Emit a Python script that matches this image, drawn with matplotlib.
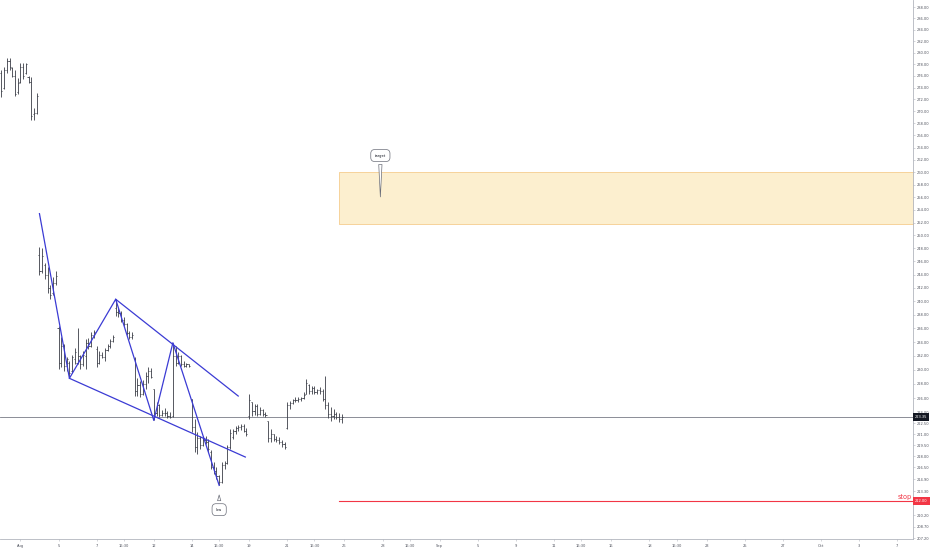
import numpy as np
import pandas as pd
import matplotlib
matplotlib.use('Agg')
import matplotlib.pyplot as plt
from matplotlib.collections import LineCollection
from matplotlib.ticker import FixedLocator, FixedFormatter, NullLocator, NullFormatter

# hourly OHLC bars, 7 per session
bar_days = ['2019-07-31', '2019-08-01', '2019-08-02', '2019-08-05', '2019-08-06',
            '2019-08-07', '2019-08-08', '2019-08-09', '2019-08-12', '2019-08-13',
            '2019-08-14', '2019-08-15', '2019-08-16', '2019-08-19', '2019-08-20',
            '2019-08-21', '2019-08-22', '2019-08-23']

opens = [276.5, 274.0, 277.0, 278.5, 277.3, 276.0, 273.2,
         275.0, 277.5, 276.5, 275.8, 275.0, 269.5, 269.8,
         247.0, 244.6, 245.5, 244.0, 242.0, 241.2, 242.8,
         236.0, 231.0, 233.5, 230.5, 231.0, 229.8, 231.5,
         231.0, 232.0, 230.8, 232.0, 233.8, 233.5, 235.0,
         233.0, 231.0, 232.2, 231.9, 232.9, 233.4, 234.2,
         239.0, 238.4, 238.2, 237.2, 236.6, 235.3, 234.7,
         231.5, 227.0, 227.8, 226.6, 228.0, 229.2, 229.8,
         227.3, 224.0, 225.0, 223.7, 224.0, 223.9, 223.5,
         223.5, 232.0, 231.0, 232.0, 230.8, 230.6, 230.8,
         225.9, 222.0, 219.2, 220.5, 219.5, 220.2, 220.0,
         218.6, 216.6, 216.0, 215.4, 214.5, 216.8, 217.1,
         219.2, 220.6, 221.4, 221.9, 222.0, 222.2, 221.5,
         223.5, 225.4, 224.2, 224.9, 223.8, 224.4, 223.8,
         222.8, 220.5, 221.0, 220.4, 220.2, 219.9, 219.6,
         221.8, 225.0, 225.3, 225.7, 225.8, 225.9, 226.0,
         226.6, 227.8, 227.0, 227.4, 226.9, 227.1, 227.0,
         225.9, 225.0, 223.8, 223.5, 223.8, 223.4, 223.1]
highs = [277.0, 277.5, 279.0, 279.0, 277.5, 277.0, 275.6,
         278.2, 278.2, 278.3, 276.0, 275.8, 270.5, 273.1,
         248.2, 248.0, 245.8, 245.1, 242.5, 243.6, 244.5,
         236.3, 234.8, 233.7, 231.9, 231.2, 232.2, 233.2,
         236.1, 232.2, 232.7, 234.4, 234.6, 235.4, 235.8,
         233.4, 232.7, 232.5, 233.2, 233.7, 234.4, 235.0,
         240.3, 239.0, 238.5, 237.6, 236.8, 235.6, 235.4,
         231.9, 228.8, 228.4, 228.5, 229.7, 230.4, 230.3,
         227.3, 225.4, 225.2, 224.3, 224.6, 224.2, 224.1,
         233.9, 233.4, 232.5, 232.2, 231.2, 231.0, 230.9,
         225.9, 223.1, 221.3, 220.7, 220.7, 220.7, 220.3,
         218.8, 217.2, 216.6, 215.5, 217.2, 217.4, 219.5,
         221.7, 221.7, 222.2, 222.3, 222.4, 222.4, 221.8,
         226.6, 225.4, 225.2, 225.2, 224.7, 224.5, 224.1,
         222.8, 221.7, 221.0, 220.7, 220.6, 220.2, 219.9,
         225.4, 225.6, 225.9, 226.1, 226.1, 226.2, 226.8,
         228.7, 228.0, 227.7, 227.7, 227.3, 227.6, 227.3,
         229.2, 225.4, 224.7, 224.5, 224.1, 224.0, 223.8]
lows = [272.4, 273.8, 276.5, 277.0, 275.8, 272.6, 273.0,
        274.8, 275.5, 276.3, 274.8, 268.5, 268.6, 269.5,
        244.0, 244.3, 243.3, 241.3, 240.4, 241.0, 242.5,
        230.1, 230.4, 229.8, 229.8, 229.0, 229.6, 230.8,
        230.8, 230.1, 230.5, 230.1, 233.0, 233.3, 234.6,
        230.4, 230.9, 231.7, 231.2, 232.7, 233.2, 234.0,
        237.8, 237.6, 236.9, 236.4, 235.0, 234.5, 234.4,
        226.3, 226.3, 226.1, 226.5, 227.3, 228.2, 228.8,
        222.9, 223.5, 223.4, 223.5, 223.5, 223.2, 223.2,
        223.4, 230.5, 230.8, 230.5, 230.4, 230.4, 230.4,
        221.3, 218.6, 218.3, 219.0, 219.4, 219.6, 218.6,
        216.3, 215.6, 215.0, 214.1, 214.4, 216.3, 216.9,
        219.0, 220.3, 221.0, 221.4, 221.6, 221.3, 220.7,
        223.1, 223.5, 223.7, 223.5, 223.7, 223.5, 223.4,
        219.9, 219.9, 220.1, 219.9, 219.7, 219.3, 219.0,
        221.7, 224.5, 225.2, 225.4, 225.4, 225.6, 225.9,
        226.6, 226.6, 226.6, 226.6, 226.6, 226.6, 225.6,
        224.5, 223.3, 222.8, 223.1, 223.1, 222.7, 222.6]
closes = [273.5, 277.0, 278.5, 277.5, 276.0, 273.0, 274.8,
          277.5, 276.0, 278.0, 275.0, 269.2, 269.8, 272.5,
          244.6, 246.8, 244.0, 242.0, 241.0, 242.8, 243.8,
          231.0, 233.5, 230.5, 231.5, 229.5, 231.8, 232.5,
          232.0, 230.8, 232.2, 233.8, 233.5, 235.0, 235.4,
          231.0, 232.2, 231.9, 232.9, 233.4, 234.2, 234.8,
          238.4, 238.2, 237.2, 236.6, 235.3, 234.7, 235.0,
          227.0, 227.8, 226.6, 228.0, 229.2, 229.8, 229.0,
          224.0, 225.0, 223.7, 224.0, 223.9, 223.5, 223.4,
          232.0, 231.0, 232.0, 230.8, 230.6, 230.8, 230.6,
          222.0, 219.2, 220.5, 219.5, 220.2, 220.0, 219.0,
          216.6, 216.0, 215.4, 214.5, 216.8, 217.1, 219.2,
          221.2, 221.4, 221.9, 222.0, 222.2, 221.5, 221.0,
          225.8, 224.2, 224.9, 223.8, 224.4, 223.8, 223.6,
          220.5, 221.0, 220.4, 220.2, 219.9, 219.6, 219.3,
          225.0, 225.3, 225.7, 225.8, 225.9, 226.0, 226.5,
          228.2, 227.0, 227.4, 226.9, 227.1, 227.0, 225.9,
          225.0, 223.8, 223.5, 223.8, 223.4, 223.1, 223.35]

# right price scale labels
ytick_vals = [288, 286, 284, 282, 280, 278, 276, 274, 272, 270, 268, 266, 264, 262,
              260, 258, 256, 254, 252, 250, 248, 246, 244, 242, 240, 238, 236, 234,
              232, 230, 228, 226, 224, 222.5, 221.0, 219.5, 218.0, 216.5, 214.9,
              213.3, 210.2, 208.7, 207.2]

# time scale labels
tick_dates = ['2019-08-01', '2019-08-05', '2019-08-07', '2019-08-12', '2019-08-14',
              '2019-08-19', '2019-08-21', '2019-08-26', '2019-08-28', '2019-09-03',
              '2019-09-05', '2019-09-09', '2019-09-11', '2019-09-16', '2019-09-18',
              '2019-09-23', '2019-09-25', '2019-09-27', '2019-10-01', '2019-10-03',
              '2019-10-07']
tick_names = ['Aug', '5', '7', '12', '14', '19', '21', '26', '28', 'Sep', '5', '9', '11',
              '16', '18', '23', '25', '27', 'Oct', '3', '7']
intraday_dates = ['2019-08-08', '2019-08-15', '2019-08-22', '2019-08-29',
                  '2019-09-12', '2019-09-19']

# drawings: (date, bar of session, price)
zigzag = [('2019-08-02', 0, 253.4), ('2019-08-05', 4, 228.8), ('2019-08-08', 0, 240.3),
          ('2019-08-12', 0, 222.9), ('2019-08-13', 0, 233.9), ('2019-08-15', 3, 214.1)]
upper_trend = [('2019-08-08', 0, 240.3), ('2019-08-16', 3, 226.3)]
lower_trend = [('2019-08-05', 4, 228.8), ('2019-08-16', 5.6, 217.9)]
target_zone = (251.8, 260.0)
stop_price = 212.0
zone_start = ('2019-08-23', 5, None)
target_tip = ('2019-08-27', 6.2, 255.6)
target_label = 262.7
low_tip = ('2019-08-15', 3, 213.2)
low_label = 210.9

BARS = 7
cal = pd.bdate_range('2019-07-31', '2019-10-10')
cal = cal[cal != pd.Timestamp('2019-09-02')]
day_pos = {d.strftime('%Y-%m-%d'): i for i, d in enumerate(cal)}


def xpos(d, k):
    return day_pos[d] + k / BARS


x = np.array([day_pos[d] + k / BARS for d in bar_days for k in range(BARS)])
o, h, l, c = map(np.array, (opens, highs, lows, closes))

fig = plt.figure(figsize=(9.32, 5.5), dpi=100)
ax = fig.add_axes([0, 11 / 550, 913 / 932, 539 / 550])
ax.set_yscale('log')
ax.set_xlim(-0.07, 47.83)
ax.set_ylim(207.1, 289.3)

w = 0.4 / BARS
segs = []
for xi, oi, hi, li, ci in zip(x, o, h, l, c):
    segs.append([(xi, li), (xi, hi)])
    segs.append([(xi - w, oi), (xi, oi)])
    segs.append([(xi, ci), (xi + w, ci)])
ax.add_collection(LineCollection(segs, colors='#3a3d46', linewidths=0.6, zorder=3))

last = closes[-1]
ax.axhline(last, color='#787b86', lw=0.6, zorder=1)

blue = '#3b3bd4'
zx = [xpos(d, k) for d, k, p in zigzag]
zy = [p for d, k, p in zigzag]
ax.plot(zx, zy, color=blue, lw=0.9, zorder=4)
for line in (upper_trend, lower_trend):
    ax.plot([xpos(d, k) for d, k, p in line], [p for d, k, p in line], color=blue, lw=0.9, zorder=4)

x0 = xpos(zone_start[0], zone_start[1])
x1 = day_pos['2019-10-09']
ax.fill_between([x0, x1], target_zone[0], target_zone[1], facecolor='#fcefcf',
                edgecolor='#f3c57c', lw=0.5, zorder=1)
ax.plot([x0, x1], [stop_price, stop_price], color='#f23645', lw=0.8, zorder=2)

bbox = dict(boxstyle='round,pad=1.1', fc='white', ec='#6a6d78', lw=0.5)
arrow = dict(arrowstyle='wedge,tail_width=0.9,shrink_factor=0.5', fc='white', ec='#6a6d78', lw=0.5)
tx = xpos(target_tip[0], target_tip[1])
ax.annotate('target', xy=(tx, target_tip[2]), xytext=(tx, target_label), ha='center',
            va='center', fontsize=2.6, color='#131722', bbox=bbox, arrowprops=arrow, zorder=6)
lx = xpos(low_tip[0], low_tip[1])
ax.annotate('low', xy=(lx, low_tip[2]), xytext=(lx, low_label), ha='center',
            va='center', fontsize=2.6, color='#131722', bbox=bbox, arrowprops=arrow, zorder=6)

# axes styling
for s in ('top', 'left'):
    ax.spines[s].set_visible(False)
for s in ('right', 'bottom'):
    ax.spines[s].set_color('#b2b5be')
    ax.spines[s].set_linewidth(0.6)

ax.yaxis.tick_right()
ax.yaxis.set_major_locator(FixedLocator(ytick_vals))
ax.yaxis.set_major_formatter(FixedFormatter(['%.2f' % v for v in ytick_vals]))
ax.yaxis.set_minor_locator(NullLocator())
ax.yaxis.set_minor_formatter(NullFormatter())
ax.tick_params(axis='y', labelsize=2.6, length=1.5, width=0.4, color='#b2b5be',
               labelcolor='#50535e', pad=1.2)

xt = [day_pos[d] for d in tick_dates] + [xpos(d, 3) for d in intraday_dates]
xl = tick_names + ['16:30'] * len(intraday_dates)
ax.set_xticks(xt)
ax.set_xticklabels(xl)
ax.tick_params(axis='x', labelsize=2.6, length=1.5, width=0.4, color='#b2b5be',
               labelcolor='#50535e', pad=2.2)

ytr = ax.get_yaxis_transform()
ax.text(1.002, last, '%.2f' % last, transform=ytr, ha='left', va='center', fontsize=2.6,
        color='white', clip_on=False, zorder=10,
        bbox=dict(boxstyle='square,pad=0.6', fc='#131722', ec='none'))
ax.text(1.002, stop_price, '%.2f' % stop_price, transform=ytr, ha='left', va='center',
        fontsize=2.6, color='white', clip_on=False, zorder=10,
        bbox=dict(boxstyle='square,pad=0.6', fc='#f23645', ec='none'))
ax.text(0.999, stop_price * 1.001, 'stop', transform=ytr, ha='right', va='bottom',
        fontsize=4.7, color='#f23645', zorder=5)

fig.savefig('out.png', dpi=100, facecolor='white')
